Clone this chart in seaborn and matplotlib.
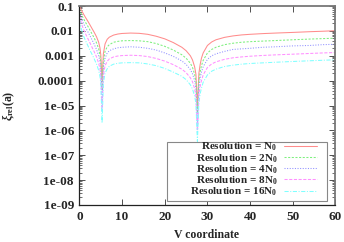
"""
Relative error along V for several grid resolutions (gnuplot-like log plot).
"""

import matplotlib
matplotlib.use('Agg')
import matplotlib.pyplot as plt
import matplotlib.ticker as mticker
from matplotlib.patches import Rectangle
import seaborn as sns


# ===== Data =====
V = [0, 0.5, 1, 1.5, 2, 2.5, 3, 3.5, 4, 4.5, 4.8, 5.0, 5.3, 5.6, 6, 6.5, 7,
     8, 9, 10, 12, 14, 16, 18, 20, 22, 24, 25, 26, 26.5, 27, 27.3, 27.65,
     28, 28.3, 28.6, 29, 30, 31, 32, 34, 36, 38, 40, 43, 46, 50, 54, 57, 60]

ERR_N0 = [0.10, 0.066, 0.046, 0.033, 0.024, 0.017, 0.012, 0.0085, 0.0058,
          0.0035, 0.0021, 0.0011, 1.0e-4, 0.0012, 0.0030, 0.0046, 0.0056,
          0.0068, 0.0075, 0.0079, 0.0082, 0.0080, 0.0073, 0.0061, 0.0048,
          0.0034, 0.0022, 0.0016, 0.0010, 0.00068, 0.00036, 0.00018, 1.0e-5,
          0.00020, 0.00045, 0.00080, 0.0013, 0.0026, 0.0036, 0.0044, 0.0055,
          0.0063, 0.0069, 0.0073, 0.0078, 0.0082, 0.0087, 0.0093, 0.0097,
          0.0102]

ERR_2N0 = [0.075, 0.045, 0.030, 0.021, 0.015, 0.0105, 0.0073, 0.0050, 0.0033,
           0.0019, 0.0011, 0.00055, 4e-5, 0.0006, 0.0015, 0.0023, 0.0028,
           0.0035, 0.0038, 0.0040, 0.0041, 0.0040, 0.0037, 0.0031, 0.0024,
           0.0017, 0.0011, 0.0008, 0.0005, 0.00034, 0.00018, 0.00009, 5e-6,
           0.0001, 0.00023, 0.0004, 0.00065, 0.0013, 0.0018, 0.0022, 0.0028,
           0.0032, 0.0035, 0.0037, 0.0039, 0.0041, 0.0044, 0.0047, 0.0049,
           0.0051]

ERR_4N0 = [0.055, 0.030, 0.019, 0.013, 0.0090, 0.0062, 0.0042, 0.0028, 0.0018,
           0.0010, 0.0006, 0.0003, 1.5e-5, 0.00033, 0.0008, 0.0013, 0.0016,
           0.0019, 0.0021, 0.0022, 0.0023, 0.0022, 0.0020, 0.0017, 0.0013,
           0.00095, 0.00062, 0.00045, 0.00028, 0.00019, 0.0001, 0.00005,
           1.5e-6, 0.000055, 0.00013, 0.00022, 0.00036, 0.00072, 0.0010,
           0.0012, 0.0015, 0.0018, 0.0019, 0.0020, 0.0022, 0.0023, 0.0025,
           0.0026, 0.0028, 0.0029]

ERR_8N0 = [0.04, 0.019, 0.011, 0.0072, 0.0048, 0.0032, 0.0021, 0.0014, 0.0009,
           0.0005, 0.0003, 0.00015, 6e-6, 0.00016, 0.0004, 0.0006, 0.00075,
           0.00090, 0.00098, 0.00102, 0.00105, 0.00102, 0.00093, 0.00078,
           0.00061, 0.00044, 0.00029, 0.00021, 0.00013, 0.00009, 0.000047,
           0.000023, 8e-7, 0.000026, 0.00006, 0.0001, 0.00017, 0.00034,
           0.00047, 0.00057, 0.00072, 0.00083, 0.0009, 0.00096, 0.00103,
           0.00109, 0.00116, 0.00124, 0.0013, 0.00135]

ERR_16N0 = [0.028, 0.011, 0.0060, 0.0038, 0.0025, 0.0016, 0.0011, 0.00072,
            0.00046, 0.00026, 0.00015, 0.00008, 2e-6, 0.00008, 0.0002, 0.0003,
            0.00038, 0.00046, 0.0005, 0.00052, 0.00053, 0.00052, 0.00047,
            0.0004, 0.00031, 0.00022, 0.00015, 0.00011, 0.000068, 0.000046,
            0.000024, 0.000012, 3.6e-7, 0.000013, 0.00003, 0.00005, 0.000086,
            0.00017, 0.00024, 0.00029, 0.00037, 0.00042, 0.00046, 0.00049,
            0.00052, 0.00055, 0.00059, 0.00063, 0.00066, 0.00069]

LABELS = ['Resolution = N$_0$', 'Resolution = 2N$_0$', 'Resolution = 4N$_0$',
          'Resolution = 8N$_0$', 'Resolution = 16N$_0$']
SERIES = [ERR_N0, ERR_2N0, ERR_4N0, ERR_8N0, ERR_16N0]

X_TICKS = [0, 10, 20, 30, 40, 50, 60]
Y_TICKS = [1e-1, 1e-2, 1e-3, 1e-4, 1e-5, 1e-6, 1e-7, 1e-8, 1e-9]
Y_TICK_LABELS = ['0.1', '0.01', '0.001', '0.0001', '1e-05', '1e-06',
                 '1e-07', '1e-08', '1e-09']

# ===== Styles =====
COLORS = ['#ff8c8c', '#7ef07e', '#9090ff', '#ff90ff', '#80ffff']
DASHES = [(None, None), (2, 1.5), (1, 1.5), (3, 1.5), (4, 1.5, 1, 1.5)]
FONT = 'Liberation Serif'


def main():
    sns.set_style('ticks')
    plt.rcParams['font.family'] = [FONT, 'DejaVu Serif']
    plt.rcParams['font.weight'] = 'bold'
    plt.rcParams['mathtext.fontset'] = 'custom'
    plt.rcParams['mathtext.rm'] = FONT + ':bold'
    plt.rcParams['mathtext.it'] = FONT + ':italic:bold'
    plt.rcParams['mathtext.bf'] = FONT + ':bold'

    fig = plt.figure(figsize=(3.44, 2.42), dpi=100)
    ax = fig.add_axes([0.231, 0.153, 0.744, 0.822])

    for vals, label, color, dash in zip(SERIES, LABELS, COLORS, DASHES):
        line = sns.lineplot(x=V, y=vals, ax=ax, color=color, lw=0.75,
                            label=label, legend=False).lines[-1]
        if dash[0] is not None:
            line.set_dashes(dash)

    ax.set_yscale('log')
    ax.set_xlim(0, 60)
    ax.set_ylim(1e-9, 0.1)
    ax.set_xticks(X_TICKS)
    ax.yaxis.set_major_locator(mticker.FixedLocator(Y_TICKS))
    ax.yaxis.set_major_formatter(mticker.FixedFormatter(Y_TICK_LABELS))
    ax.yaxis.set_minor_locator(mticker.LogLocator(base=10, subs=range(2, 10),
                                                  numticks=20))
    ax.yaxis.set_minor_formatter(mticker.NullFormatter())

    ax.tick_params(which='both', direction='in', top=True, right=True,
                   labelsize=9.5, color='#333333')
    ax.tick_params(which='major', length=4, width=0.6, pad=4)
    ax.tick_params(which='minor', length=2, width=0.5)
    for side in ['left', 'bottom']:
        ax.spines[side].set_color('#222222')
        ax.spines[side].set_linewidth(0.9)
    for side in ['top', 'right']:
        ax.spines[side].set_color('#777777')
        ax.spines[side].set_linewidth(1.3)

    ax.set_xlabel('V coordinate', fontsize=8.5, fontweight='bold')
    ax.xaxis.set_label_coords(0.498, -0.12)
    ax.set_ylabel(r'$\xi_{\mathrm{rel}}$(a)', fontsize=8.5, fontweight='bold')
    ax.yaxis.set_label_coords(-0.244, 0.5)

    # gnuplot-style key: wide grey box, right-aligned labels, samples on the right
    ax.add_patch(Rectangle((0.342, 0.02), 0.625, 0.296, transform=ax.transAxes,
                           facecolor='white', edgecolor='#888888', lw=0.8,
                           zorder=4))
    leg = ax.legend(loc='lower right', bbox_to_anchor=(0.93, 0.035),
                    markerfirst=False, frameon=False, fontsize=8,
                    handlelength=3.0, labelspacing=-0.12, borderpad=0,
                    handletextpad=0.6, borderaxespad=0)
    leg.set_zorder(5)

    fig.savefig('out.png', dpi=100)
    plt.close(fig)


if __name__ == '__main__':
    main()
